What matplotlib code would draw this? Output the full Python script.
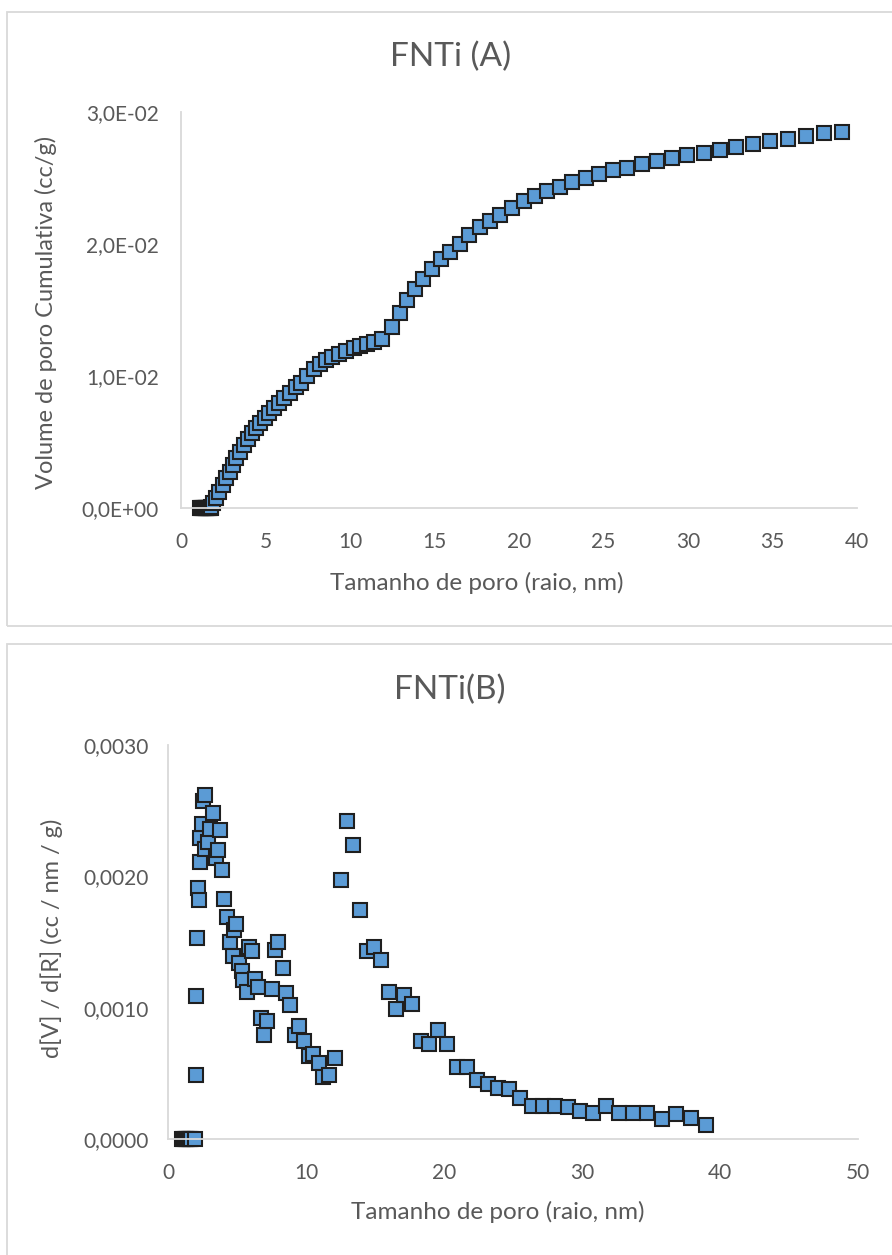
import matplotlib

matplotlib.use("Agg")
import matplotlib.pyplot as plt
from matplotlib.patches import Rectangle
from matplotlib.ticker import FuncFormatter

# FNTi (A): cumulative pore volume vs pore radius
raio_a = [1.15, 1.2, 1.25, 1.3, 1.35, 1.4, 1.45, 1.5, 1.55, 1.6, 1.65, 1.7, 1.75,
          1.8, 1.88, 2.08, 2.27,
          2.47, 2.67, 2.87, 3.07, 3.26, 3.50, 3.74, 3.96, 4.20, 4.45, 4.69, 4.97,
          5.22, 5.52, 5.80, 6.11, 6.47, 6.78, 7.12, 7.48, 7.85, 8.21, 8.59, 8.96,
          9.36, 9.77, 10.21, 10.62, 11.02, 11.44, 11.91, 12.50, 12.94, 13.35, 13.83,
          14.30, 14.85, 15.37, 15.92, 16.48, 17.07, 17.67, 18.26, 18.89, 19.60,
          20.28, 20.95, 21.66, 22.42, 23.16, 23.96, 24.75, 25.58, 26.41, 27.28,
          28.15, 29.06, 29.97, 30.92, 31.87, 32.82, 33.85, 34.88, 35.90, 36.97,
          38.04, 39.10]
vol_a = [0.0, 0.0, 0.0, 0.0, 0.0, 0.0, 0.0, 0.0, 0.0, 0.0, 0.0, 0.0, 0.0,
         0.00005, 0.00036, 0.00073,
         0.00123, 0.00174, 0.00225, 0.00275, 0.00326, 0.00377, 0.00427, 0.00477,
         0.00520, 0.00566, 0.00604, 0.00642, 0.00680, 0.00717, 0.00755, 0.00793,
         0.00836, 0.00873, 0.00914, 0.00949, 0.01000, 0.01051, 0.01091, 0.01121,
         0.01146, 0.01167, 0.01192, 0.01210, 0.01227, 0.01240, 0.01258, 0.01278,
         0.01374, 0.01477, 0.01576, 0.01659, 0.01735, 0.01811, 0.01884, 0.01939,
         0.02000, 0.02066, 0.02127, 0.02173, 0.02220, 0.02276, 0.02324, 0.02362,
         0.02402, 0.02434, 0.02470, 0.02500, 0.02533, 0.02558, 0.02578, 0.02606,
         0.02629, 0.02649, 0.02672, 0.02689, 0.02714, 0.02737, 0.02758, 0.02780,
         0.02795, 0.02818, 0.02838, 0.02851]

# FNTi(B): dV/dR vs pore radius
raio_b = [1.0, 1.1, 1.2, 1.3, 1.4, 1.5, 1.6, 1.7, 1.95, 2.00, 2.03, 2.08, 2.15,
          2.25, 2.32, 2.35, 2.44, 2.56, 2.68, 2.71, 2.92, 3.04, 3.28, 3.48, 3.65,
          3.77, 3.89, 4.06, 4.25, 4.49, 4.69, 4.78, 4.93, 5.17, 5.34, 5.46, 5.70,
          5.89, 6.11, 6.30, 6.54, 6.74, 6.96, 7.20, 7.51, 7.75, 8.00, 8.31, 8.55,
          8.84, 9.20, 9.49, 9.86, 10.24, 10.53, 10.94, 11.25, 11.69, 12.10, 12.54,
          12.97, 13.41, 13.91, 14.40, 14.90, 15.43, 15.99, 16.52, 17.12, 17.70,
          18.31, 18.94, 19.59, 20.20, 20.92, 21.69, 22.42, 23.16, 23.94, 24.73,
          25.51, 26.35, 27.20, 28.07, 28.96, 29.88, 30.82, 31.74, 32.71, 33.72,
          34.71, 35.77, 36.81, 37.88, 38.99]
dvdr_b = [0.0, 0.0, 0.0, 0.0, 0.0, 0.0, 0.0, 0.0, 0.0, 0.00049, 0.00109, 0.00153,
          0.00191, 0.00182, 0.00211, 0.00229, 0.00240, 0.00257, 0.00221, 0.00262,
          0.00226, 0.00236, 0.00248, 0.00214, 0.00220, 0.00235, 0.00205, 0.00183,
          0.00169, 0.00150, 0.00139, 0.00159, 0.00164, 0.00134, 0.00128, 0.00121,
          0.00112, 0.00146, 0.00143, 0.00122, 0.00116, 0.00092, 0.00079, 0.00090,
          0.00114, 0.00144, 0.00150, 0.00130, 0.00111, 0.00102, 0.00079, 0.00086,
          0.00075, 0.00063, 0.00065, 0.00058, 0.00047, 0.00049, 0.00062, 0.00197,
          0.00242, 0.00224, 0.00174, 0.00143, 0.00146, 0.00136, 0.00112, 0.00099,
          0.00110, 0.00103, 0.00075, 0.00072, 0.00083, 0.00072, 0.00055, 0.00055,
          0.00045, 0.00042, 0.00039, 0.00038, 0.00031, 0.00025, 0.00025, 0.00025,
          0.00024, 0.00021, 0.00020, 0.00025, 0.00020, 0.00020, 0.00020, 0.00015,
          0.00019, 0.00016, 0.00011]

W, H = 892, 1255
TXT = "#595959"
AXIS = "#d9d9d9"
FILL = "#5b9bd5"

plt.rcParams["font.family"] = ["Lato", "DejaVu Sans"]


def fig_xy(x, y):
    return x / W, 1 - y / H


def make_axes(fig, x0, y0, x1, y1):
    """Axes from pixel corners (left, top, right, bottom)."""
    ax = fig.add_axes([x0 / W, 1 - y1 / H, (x1 - x0) / W, (y1 - y0) / H])
    for s in ("top", "right"):
        ax.spines[s].set_visible(False)
    for s in ("left", "bottom"):
        ax.spines[s].set_color(AXIS)
        ax.spines[s].set_linewidth(1.3)
    ax.tick_params(length=0, labelsize=15, labelcolor=TXT)
    return ax


fig = plt.figure(figsize=(W / 100, H / 100), dpi=100)

# chart borders
for top, bottom in ((12, 626), (644, 1262)):
    x, y = fig_xy(7, bottom)
    fig.patches.append(Rectangle((x, y), (W - 7 + 10) / W, (bottom - top) / H,
                                 transform=fig.transFigure, fill=False,
                                 edgecolor=AXIS, linewidth=1.3))

mk = dict(marker="s", markersize=10, markerfacecolor=FILL, markeredgecolor="#1f1f1f",
          markeredgewidth=1.5, linestyle="none", clip_on=False)

# (A)
ax = make_axes(fig, 181, 112, 857, 508)
ax.plot(raio_a, vol_a, **mk)
ax.set_xlim(0, 40)
ax.set_ylim(0, 0.03)
ax.set_xticks(range(0, 41, 5))
ax.set_yticks([0, 0.01, 0.02, 0.03])
ax.yaxis.set_major_formatter(FuncFormatter(lambda v, _: f"{v:.1E}".replace(".", ",")))
ax.tick_params(axis="x", pad=17)
ax.tick_params(axis="y", pad=16)
fig.text(*fig_xy(451, 57), "FNTi (A)", ha="center", va="center", fontsize=24, color=TXT)
fig.text(*fig_xy(477, 583), "Tamanho de poro (raio, nm)", ha="center", va="center",
         fontsize=17.5, color=TXT)
fig.text(*fig_xy(46, 312), "Volume de poro Cumulativa (cc/g)", ha="center", va="center",
         rotation=90, fontsize=17, color=TXT)

# (B)
ax = make_axes(fig, 168, 745, 858, 1139)
ax.plot(raio_b, dvdr_b, **mk)
ax.set_xlim(0, 50)
ax.set_ylim(0, 0.003)
ax.set_xticks(range(0, 51, 10))
ax.set_yticks([0, 0.001, 0.002, 0.003])
ax.yaxis.set_major_formatter(FuncFormatter(lambda v, _: f"{v:.4f}".replace(".", ",")))
ax.tick_params(axis="x", pad=17)
ax.tick_params(axis="y", pad=14)
fig.text(*fig_xy(450, 690), "FNTi(B)", ha="center", va="center", fontsize=24, color=TXT)
fig.text(*fig_xy(498, 1212), "Tamanho de poro (raio, nm)", ha="center", va="center",
         fontsize=17.5, color=TXT)
fig.text(*fig_xy(52, 938), "d[V] / d[R] (cc / nm / g)", ha="center", va="center",
         rotation=90, fontsize=17, color=TXT)

fig.savefig("out.png", dpi=100)
